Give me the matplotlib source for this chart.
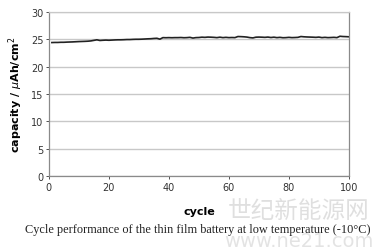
import matplotlib.pyplot as plt

# capacity per cycle
cycles = list(range(1, 101))
capacity = [
    24.40, 24.42, 24.42, 24.45, 24.45, 24.48, 24.50, 24.52, 24.55, 24.58,
    24.60, 24.62, 24.65, 24.70, 24.80, 24.90, 24.78, 24.82, 24.85, 24.82,
    24.85, 24.88, 24.90, 24.90, 24.92, 24.95, 24.95, 24.98, 25.00, 25.00,
    25.02, 25.05, 25.08, 25.10, 25.15, 25.18, 25.02, 25.30, 25.28, 25.30,
    25.28, 25.30, 25.30, 25.32, 25.28, 25.30, 25.35, 25.22, 25.30, 25.32,
    25.38, 25.35, 25.40, 25.38, 25.35, 25.30, 25.38, 25.30, 25.35, 25.30,
    25.32, 25.30, 25.50, 25.48, 25.45, 25.40, 25.30, 25.25, 25.38, 25.40,
    25.38, 25.35, 25.40, 25.32, 25.38, 25.30, 25.35, 25.28, 25.30, 25.35,
    25.30, 25.32, 25.35, 25.50, 25.45, 25.42, 25.40, 25.38, 25.35, 25.40,
    25.30, 25.35, 25.30, 25.32, 25.35, 25.30, 25.55, 25.50, 25.48, 25.45,
]
yticks = [0, 5, 10, 15, 20, 25, 30]
xticks = [0, 20, 40, 60, 80, 100]

fig = plt.figure(figsize=(3.76, 2.53), dpi=100)
ax = fig.add_axes([0.130, 0.300, 0.798, 0.649])

ax.plot(cycles, capacity, color='#222222', lw=1.2)

ax.set_xlim(0, 100)
ax.set_ylim(0, 30)
ax.set_xticks(xticks)
ax.set_yticks(yticks)
ax.grid(axis='y', color='#c8c8c8', lw=1.0)
ax.set_axisbelow(True)
for s in ax.spines.values():
    s.set_color('#8a8a8a')
    s.set_linewidth(0.9)
ax.spines['top'].set_color('#c8c8c8')
ax.tick_params(labelsize=7, colors='#333333', length=2, width=0.6, pad=2)

ax.set_xlabel('cycle', fontsize=8, fontweight='bold', labelpad=10)
ax.set_ylabel('capacity / $\\mu$Ah/cm$^2$', fontsize=8, fontweight='bold', labelpad=4)

# watermark (drawn first, caption goes over it)
fig.text(0.795, 0.165, '世纪新能源网', ha='center', va='center', fontsize=17,
         family=['Noto Sans CJK SC', 'DejaVu Sans'], color='#d8d8d8', alpha=0.8, zorder=0)
fig.text(0.795, 0.045, 'www.ne21.com', ha='center', va='center', fontsize=14,
         family='DejaVu Sans', color='#dddddd', alpha=0.8, zorder=0)

fig.text(0.527, 0.091, 'Cycle performance of the thin film battery at low temperature (-10°C)',
         ha='center', va='center', fontsize=8.8, family='Liberation Serif', color='#222222',
         zorder=5)

fig.savefig('out.png', dpi=100)
